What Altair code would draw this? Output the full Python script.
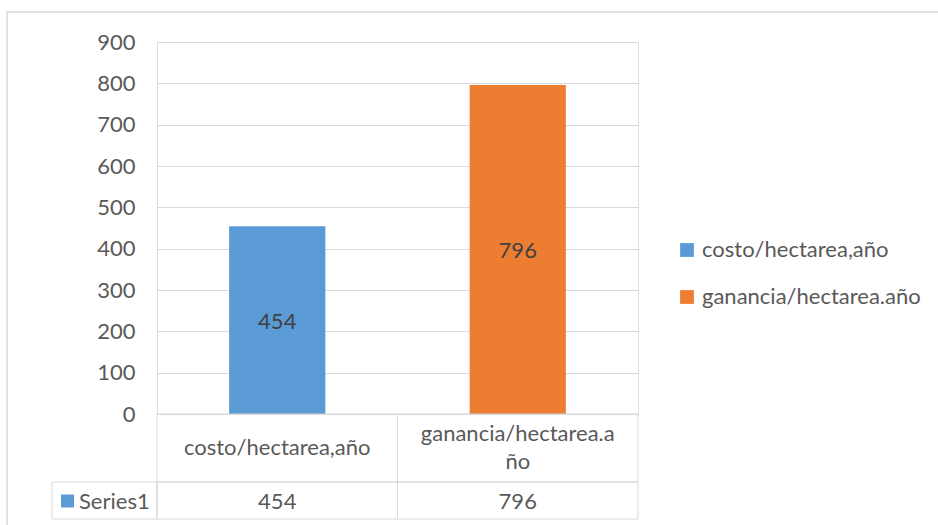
import altair as alt
import pandas as pd

# ---- data ----
categories = ["costo/hectarea,año", "ganancia/hectarea.año"]
values = [454, 796]
series_name = "Series1"
y_ticks = [0, 100, 200, 300, 400, 500, 600, 700, 800, 900]
colors = ["#5B9BD5", "#ED7D31"]

FONT = "Lato"
FS = 22
GRID = "#D9D9D9"
TXT = "#595959"

def wrap(s, n=19):
    return s if len(s) <= n else s[:n] + "\n" + s[n:]

df = pd.DataFrame({
    "category": categories,
    "value": values,
    "header": [wrap(c) for c in categories],
    "vtext": [str(v) for v in values],
})
df["nlines"] = df["header"].str.count("\n") + 1
one = pd.DataFrame({"label": [series_name]})

W, H = 481, 372

xcat = alt.X("category:N", sort=categories,
             scale=alt.Scale(domain=categories, paddingInner=0, paddingOuter=0),
             axis=None)

base = alt.Chart(df)

frame = alt.Chart(one).mark_rect(fillOpacity=0, stroke=GRID, strokeWidth=1.5).encode(
    x=alt.value(-150), x2=alt.value(800), y=alt.value(-30), y2=alt.value(600)
)

bars = base.mark_bar(width={"band": 0.4}).encode(
    x=xcat,
    y=alt.Y("value:Q", scale=alt.Scale(domain=[0, 900], nice=False),
            axis=alt.Axis(values=y_ticks, title=None, domain=False, ticks=False,
                          labelPadding=22, labelFont=FONT, labelFontSize=FS,
                          labelColor=TXT, gridColor=GRID, gridWidth=1)),
    color=alt.Color("category:N",
                    scale=alt.Scale(domain=categories, range=colors),
                    legend=alt.Legend(title=None, orient="none", legendX=519, legendY=197,
                                      symbolType="square", symbolSize=190,
                                      symbolStrokeWidth=0, labelFont=FONT,
                                      labelFontSize=FS, labelColor=TXT,
                                      labelOffset=4, rowPadding=25, labelLimit=400)),
)

bar_labels = base.transform_calculate(mid="datum.value / 2").mark_text(
    font=FONT, fontSize=FS, color="#404040", baseline="middle", dy=2
).encode(x=xcat, y=alt.Y("mid:Q", scale=alt.Scale(domain=[0, 900], nice=False)),
         text="vtext:N")

head_cells = base.mark_rect(fillOpacity=0, stroke=GRID, strokeWidth=1).encode(
    x=xcat, y=alt.value(H), y2=alt.value(H + 68)
)
row_cells = base.mark_rect(fillOpacity=0, stroke=GRID, strokeWidth=1).encode(
    x=xcat, y=alt.value(H + 68), y2=alt.value(H + 105)
)
name_cell = alt.Chart(one).mark_rect(fillOpacity=0, stroke=GRID, strokeWidth=1).encode(
    x=alt.value(-105), x2=alt.value(0), y=alt.value(H + 68), y2=alt.value(H + 105)
)

head_text_1 = base.transform_filter("datum.nlines == 1").mark_text(
    font=FONT, fontSize=FS, color=TXT, baseline="middle").encode(
    x=xcat, y=alt.value(H + 34), text="header:N"
)
head_text_2 = base.transform_filter("datum.nlines == 2").mark_text(
    font=FONT, fontSize=FS, color=TXT, baseline="middle",
    lineBreak="\n", lineHeight=28).encode(
    x=xcat, y=alt.value(H + 20), text="header:N"
)
row_text = base.mark_text(font=FONT, fontSize=FS, color=TXT, baseline="middle").encode(
    x=xcat, y=alt.value(H + 88), text="vtext:N"
)
name_key = alt.Chart(one).mark_square(size=169, color=colors[0], opacity=1).encode(
    x=alt.value(-89.5), y=alt.value(H + 87)
)
name_text = alt.Chart(one).mark_text(font=FONT, fontSize=FS, color=TXT, align="left",
                                     baseline="middle").encode(
    x=alt.value(-78), y=alt.value(H + 88), text="label:N"
)

chart = alt.layer(
    frame, bars, bar_labels, head_cells, row_cells, name_cell,
    head_text_1, head_text_2, row_text, name_key, name_text
).properties(
    width=W, height=H,
    autosize=alt.AutoSizeParams(type="none"),
    padding={"left": 157, "top": 42, "right": 300, "bottom": 111},
).configure_view(stroke=None).configure(background="white")

chart.save("out.html", embed_options={"renderer": "svg", "actions": False})
